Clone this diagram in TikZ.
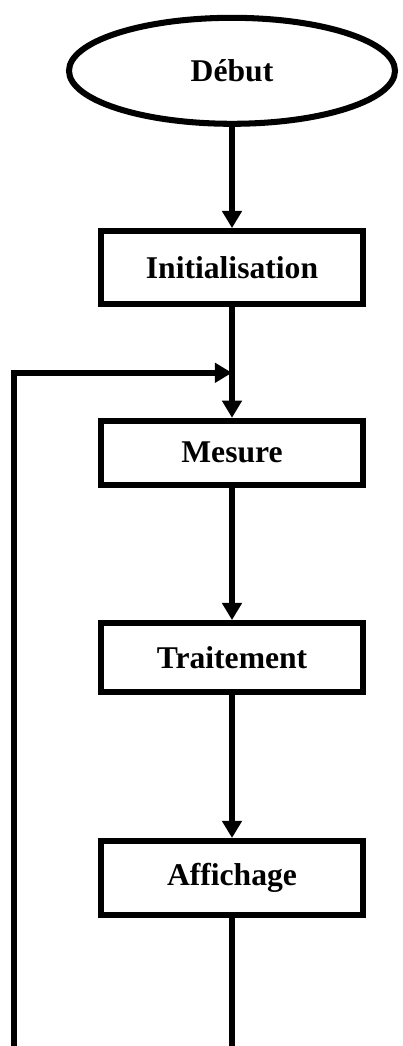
\documentclass[tikz,border=0pt]{standalone}
\usepackage{fontspec}
\setmainfont{Liberation Serif}
\usepackage{tikz}
\usetikzlibrary{shapes.geometric, arrows.meta, positioning}
\tikzset{
	startnode/.style={
			ellipse,
			draw=black,
			line width=4.3pt,
			fill=white,
			minimum width=8.15cm,
			minimum height=2.65cm,
			inner sep=0pt,
			font=\fontsize{22.5}{27}\selectfont\bfseries
		},
	stepnode/.style={
			rectangle,
			draw=black,
			line width=4.3pt,
			fill=white,
			minimum width=6.55cm,
			minimum height=1.8cm,
			inner sep=0pt,
			font=\fontsize{22.5}{27}\selectfont\bfseries
		},
	flowline/.style={
			line width=4.3pt,
			-{Triangle[length=4.3mm,width=4.8mm]}
		},
	plainline/.style={
			line width=4.3pt
		}
}

\begin{document}
\begin{tikzpicture}
\useasboundingbox (0,0) rectangle (10.075,-26.15);
\node[startnode] (debut) at (5.8,-1.77)  { Début };
\node[stepnode, minimum height=1.825cm] (init) at (5.8,-6.69)  { Initialisation };
\node[stepnode, minimum height=1.6cm] (mesure) at (5.8,-11.32)  { Mesure };
\node[stepnode, minimum height=1.725cm] (traitement) at (5.8,-16.44)  { Traitement };
\node[stepnode, minimum height=1.85cm] (affichage) at (5.8,-21.95)  { Affichage };
\coordinate (jonction) at (5.8,-9.32);
\coordinate (fin) at (5.8,-26.5);
\coordinate (retour) at (0.35,-26.5);

\draw[flowline] (debut) -- (init);
\draw[flowline] (init) -- (mesure);
\draw[flowline] (mesure) -- (traitement);
\draw[flowline] (traitement) -- (affichage);

% boucle
\draw[plainline] (affichage) -- (fin);
\draw[flowline] (retour) |- (jonction);
\end{tikzpicture}
\end{document}
